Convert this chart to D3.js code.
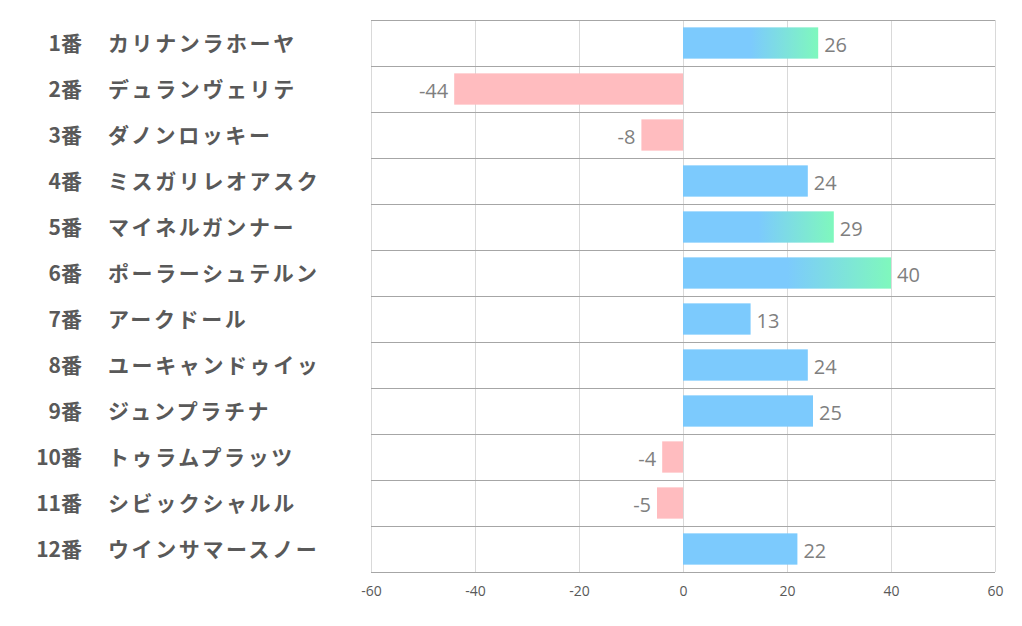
<!DOCTYPE html>
<html><head><meta charset="utf-8">
<script src="https://cdn.jsdelivr.net/npm/d3@7"></script>
<style>body{margin:0;background:#fff;} svg{display:block;}</style>
</head><body><svg id="c" width="1022" height="626"></svg>
<script>
const numbers = ["1番","2番","3番","4番","5番","6番","7番","8番","9番","10番","11番","12番"];
const names = ["カリナンラホーヤ","デュランヴェリテ","ダノンロッキー","ミスガリレオアスク","マイネルガンナー","ポーラーシュテルン","アークドール","ユーキャンドゥイッ","ジュンプラチナ","トゥラムプラッツ","シビックシャルル","ウインサマースノー"];
const values = [26,-44,-8,24,29,40,13,24,25,-4,-5,22];
const ticks = [-60,-40,-20,0,20,40,60];

const svg = d3.select("#c");
const L=371,R=995,T=20,B=572;
const x = d3.scaleLinear().domain([-60,60]).range([L,R]);
const y = d3.scaleBand().domain(d3.range(values.length)).range([T,B]).paddingInner(0.32).paddingOuter(0.16);
const rowY = d3.scaleBand().domain(d3.range(values.length)).range([T,B]);

const defs = svg.append("defs");
const g = defs.append("linearGradient").attr("id","grad").attr("x1","0").attr("x2","1").attr("y1","0").attr("y2","0");
g.append("stop").attr("offset","0%").attr("stop-color","#7ccafd");
g.append("stop").attr("offset","50%").attr("stop-color","#7ccafd");
g.append("stop").attr("offset","100%").attr("stop-color","#7ff8bd");

// vertical gridlines
svg.append("g").selectAll("line").data(ticks).join("line")
  .attr("x1",d=>x(d)).attr("x2",d=>x(d)).attr("y1",T).attr("y2",B)
  .attr("stroke","#d9d9d9").attr("stroke-width",1).attr("shape-rendering","crispEdges");
// horizontal row lines
const hl = d3.range(values.length+1).map(i=> i<values.length? rowY(i) : B);
svg.append("g").selectAll("line").data(hl).join("line")
  .attr("x1",L).attr("x2",R).attr("y1",d=>d).attr("y2",d=>d)
  .attr("stroke","#a6a6a6").attr("stroke-width",1).attr("shape-rendering","crispEdges");

// bars
svg.append("g").selectAll("rect").data(values).join("rect")
  .attr("x",d=>x(Math.min(0,d))).attr("width",d=>Math.abs(x(d)-x(0)))
  .attr("y",(d,i)=>y(i)).attr("height",y.bandwidth())
  .attr("fill",d=> d<0 ? "#ffbcbf" : (d>25 ? "url(#grad)" : "#7ccafd"));

// value labels
svg.append("g").selectAll("text").data(values).join("text")
  .attr("x",d=> d<0 ? x(d)-6 : x(d)+6)
  .attr("y",(d,i)=>y(i)+y.bandwidth()/2+1)
  .attr("text-anchor",d=>d<0?"end":"start")
  .attr("dominant-baseline","central")
  .attr("font-family","'Open Sans', sans-serif").attr("font-size",20)
  .attr("fill","#7f7f7f").text(d=>d);

// axis
const ax = svg.append("g").attr("transform",`translate(0,${B})`)
  .call(d3.axisBottom(x).tickValues(ticks).tickSize(0).tickPadding(14).tickFormat(d=>String(d)));
ax.select(".domain").remove();
ax.selectAll("text").attr("font-family","'Open Sans', sans-serif").attr("font-size",14).attr("fill","#595959");

// category labels
const cl = svg.append("g");
cl.selectAll("text.num").data(numbers).join("text").attr("class","num")
  .attr("x",82).attr("y",(d,i)=>rowY(i)+rowY.bandwidth()/2-1)
  .attr("text-anchor","end").attr("dominant-baseline","central")
  .attr("font-family","'Noto Sans CJK JP', sans-serif").attr("font-weight","bold").attr("font-size",21)
  .attr("fill","#595959").text(d=>d);
cl.selectAll("text.name").data(names).join("text").attr("class","name")
  .attr("x",108).attr("y",(d,i)=>rowY(i)+rowY.bandwidth()/2-1)
  .attr("text-anchor","start").attr("dominant-baseline","central")
  .attr("font-family","'Noto Sans CJK JP', sans-serif").attr("font-weight","bold").attr("font-size",21)
  .attr("letter-spacing",2.6)
  .attr("fill","#595959").text(d=>d);
</script></body></html>
